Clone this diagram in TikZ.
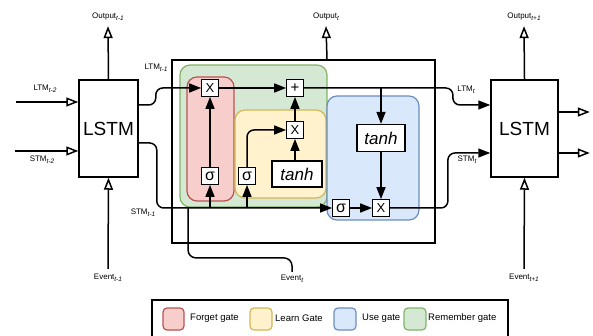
\documentclass[tikz,border=0pt]{standalone}
\usepackage{fontspec}
\setmainfont{Liberation Sans}
\usetikzlibrary{arrows.meta}
\definecolor{fgFill}{HTML}{F8CECC}\definecolor{fgLine}{HTML}{B85450}
\definecolor{lgFill}{HTML}{FFF2CC}\definecolor{lgLine}{HTML}{D6B656}
\definecolor{ugFill}{HTML}{DAE8FC}\definecolor{ugLine}{HTML}{6C8EBF}
\definecolor{rgFill}{HTML}{D5E8D4}\definecolor{rgLine}{HTML}{82B366}
\newcommand{\mysub}[1]{\raisebox{-2.2pt}{\fontsize{6.5}{7}\selectfont\itshape #1}}
\begin{document}
\begin{tikzpicture}[x=1pt,y=-1pt,
  wire/.style={line width=1.5pt,line join=round},
  arr/.style={wire,-{Triangle[length=12pt,width=9pt]}},
  oarr/.style={wire,-{Triangle[open,length=12pt,width=9pt,fill=white]}},
  region/.style={line width=1.2pt,rounded corners=10pt},
  gate/.style={draw,fill=white,line width=1.3pt,minimum size=16.5pt,inner sep=0pt},
  tanhbox/.style={draw,fill=white,line width=1.3pt,inner sep=0pt,font=\fontsize{17}{17}\selectfont\itshape},
  lstm/.style={draw,line width=1.5pt,minimum width=59pt,minimum height=97pt,inner sep=0pt,font=\fontsize{19}{19}\selectfont},
  lbl/.style={font=\fontsize{8}{9}\selectfont,inner sep=1pt},
  leg/.style={font=\fontsize{9.5}{10}\selectfont,anchor=west,inner sep=0pt},
  swatch/.style={line width=1.2pt,rounded corners=4pt}
]
\useasboundingbox (0,0) rectangle (593,336);

% gate regions
\draw[region,draw=rgLine,fill=rgFill] (180,65) rectangle (327,207);
\draw[region,draw=fgLine,fill=fgFill] (187,77) rectangle (234,201);
\draw[region,draw=lgLine,fill=lgFill] (235,110) rectangle (326,198);
\draw[region,draw=ugLine,fill=ugFill] (327,96) rectangle (419,220);

% cell and LSTM boxes
\node (cell) [draw,line width=1.5pt,minimum width=263pt,minimum height=183pt,inner sep=0pt] at (303.5,151.5) {};
\node (lstmL) [lstm] at (108.5,128.5) {LSTM};
\node (lstmR) [lstm,minimum width=67pt] at (524.5,128.5) {LSTM};

% gates
\node (fX) [gate,font=\fontsize{13}{13}\selectfont] at (210,88) {X};
\node (plus) [gate,font=\fontsize{15}{15}\selectfont] at (295,88) {+};
\node (fS) [gate,font=\fontsize{16}{16}\selectfont] at (210,176) {σ};
\node (lS) [gate,font=\fontsize{16}{16}\selectfont] at (247,176) {σ};
\node (lX) [gate,font=\fontsize{13}{13}\selectfont] at (295,130) {X};
\node (lT) [tanhbox,minimum width=50pt,minimum height=26pt] at (297,174) {tanh};
\node (uT) [tanhbox,minimum width=48pt,minimum height=27pt] at (381,138) {tanh};
\node (uS) [gate,font=\fontsize{16}{16}\selectfont] at (341,208) {σ};
\node (uX) [gate,font=\fontsize{13}{13}\selectfont] at (381,208) {X};

% labels
\node (outL) [lbl] at (108,17) {Output\mysub{t-1}};
\node (outT) [lbl] at (326,17) {Output\mysub{t}};
\node (outR) [lbl] at (524,17) {Output\mysub{t+1}};
\node (evL) [lbl] at (108,278) {Event\mysub{t-1}};
\node (evT) [lbl] at (292,279) {Event\mysub{t}};
\node (evR) [lbl] at (524,278) {Event\mysub{t+1}};
\node [lbl] at (45,89) {LTM\mysub{t-2}};
\node [lbl] at (42,160) {STM\mysub{t-2}};
\node [lbl] at (156,68) {LTM\mysub{t-1}};
\node [lbl] at (143,213) {STM\mysub{t-1}};
\node [lbl] at (466,90) {LTM\mysub{t}};
\node [lbl] at (467,160) {STM\mysub{t}};

\coordinate (inLTM) at (16,102);
\coordinate (inSTM) at (15,151);
\coordinate (ej) at (188,208);

% outer connectors
\draw[oarr] (lstmL.north) -- ([yshift=-4pt]outL.south);
\draw[oarr] ([xshift=23.5pt]cell.north) -- ([yshift=-4pt]outT.south);
\draw[oarr] (lstmR.north) -- ([yshift=-4pt]outR.south);
\draw[oarr] ([yshift=4pt]evL.north) -- (lstmL.south);
\draw[oarr] ([yshift=4pt]evR.north) -- (lstmR.south);
\draw[oarr] (inLTM) -- (lstmL.west |- inLTM);
\draw[oarr] (inSTM) -- (lstmL.west |- inSTM);
\draw[oarr] ([yshift=16.5pt]lstmR.east) -- ++(31,0);
\draw[oarr] ([yshift=-24.5pt]lstmR.east) -- ++(31,0);

% LTM path
\draw[arr,rounded corners=7pt] ([yshift=23.5pt]lstmL.east) -- ++(17,0) |- (fX.west);
\draw[arr] (fX.east) -- (plus.west);
\draw[arr,rounded corners=7pt] (plus.east) -- ++(149,0) |- ([yshift=23.5pt]lstmR.west);
\draw[arr] (uT.north |- plus.east) -- (uT.north);

% STM path
\draw[arr,rounded corners=7pt] ([yshift=-14.5pt]lstmL.east) -- ++(18,0) |- (uS.west);
\draw[arr] (fS.south |- uS.west) -- (fS.south);
\draw[arr] (lS.south |- uS.west) -- (lS.south);
\draw[wire,rounded corners=8pt] ([yshift=2pt]evT.north) -- ++(0,-14) -| (ej);

% inner gate connectors
\draw[arr] (fS.north) -- (fX.south);
\draw[arr,rounded corners=7pt] (lS.north) |- (lX.west);
\draw[arr] (lX.south |- lT.north) -- (lX.south);
\draw[arr] (lX.north) -- (plus.south);
\draw[arr] (uT.south) -- (uX.north);
\draw[arr] (uS.east) -- (uX.west);
\draw[arr,rounded corners=7pt] (uX.east) -- ++(58,0) |- ([yshift=-24.5pt]lstmR.west);

% legend
\node (legend) [draw,line width=1.5pt,minimum width=356pt,minimum height=45pt,inner sep=0pt] at (330,322.5) {};
\draw[swatch,draw=fgLine,fill=fgFill] (163,308) rectangle (184,330);
\node (lf) [leg] at (190,318) {Forget gate};
\draw[swatch,draw=lgLine,fill=lgFill] (250,308) rectangle (272,330);
\node (ll) [leg] at (275,318) {Learn Gate};
\draw[swatch,draw=ugLine,fill=ugFill] (334,308) rectangle (356,330);
\node (lu) [leg] at (362,318) {Use gate};
\draw[swatch,draw=rgLine,fill=rgFill] (404,308) rectangle (426,330);
\node (lr) [leg] at (428,318) {Remember gate};
\end{tikzpicture}
\end{document}
